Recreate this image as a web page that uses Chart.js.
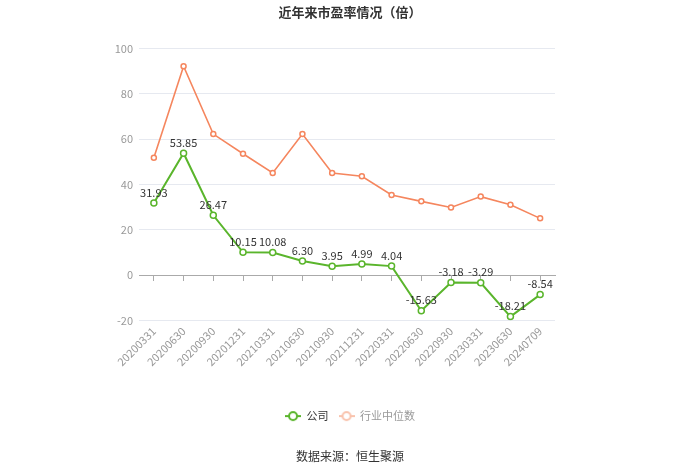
<!DOCTYPE html>
<html>
<head>
<meta charset="utf-8">
<script src="https://cdn.jsdelivr.net/npm/chart.js@4.4.0/dist/chart.umd.min.js"></script>
<style>
  body { margin: 0; background: #fff; }
  canvas { display: block; }
</style>
</head>
<body>
<canvas id="peChart" width="700" height="473"></canvas>
<script>
// data
const periods = [
    '20200331', '20200630', '20200930', '20201231', '20210331', '20210630', '20210930',
    '20211231', '20220331', '20220630', '20220930', '20230331', '20230630', '20240709'
];
const companyPE = [31.93, 53.85, 26.47, 10.15, 10.08, 6.30, 3.95, 4.99, 4.04, -15.63, -3.18, -3.29, -18.21, -8.54];
const industryPE = [51.8, 92.2, 62.3, 53.6, 45.1, 62.3, 45.1, 43.7, 35.4, 32.6, 29.9, 34.7, 31.1, 25.1];
const yTicks = [-20, 0, 20, 40, 60, 80, 100];

const green = '#5ab52c';
const orange = '#f5865e';

Chart.defaults.font.family = '"Noto Sans CJK SC", "Noto Sans", sans-serif';

// legend icon: short line with hollow circle
function legendIcon(color) {
    const c = document.createElement('canvas');
    c.width = 16;
    c.height = 12;
    const ctx = c.getContext('2d');
    ctx.strokeStyle = color;
    ctx.lineWidth = 2;
    ctx.beginPath();
    ctx.moveTo(0, 6);
    ctx.lineTo(16, 6);
    ctx.stroke();
    ctx.beginPath();
    ctx.arc(8, 6, 4, 0, Math.PI * 2);
    ctx.fillStyle = '#fff';
    ctx.fill();
    ctx.stroke();
    return c;
}

// value labels over the company line
const valueLabels = {
    id: 'valueLabels',
    afterDatasetsDraw(chart) {
        const ctx = chart.ctx;
        const meta = chart.getDatasetMeta(0);
        ctx.save();
        ctx.font = '11px "Noto Sans CJK SC", "Noto Sans", sans-serif';
        ctx.fillStyle = '#333';
        ctx.textAlign = 'center';
        ctx.textBaseline = 'bottom';
        meta.data.forEach((pt, i) => {
            ctx.fillText(companyPE[i].toFixed(2), pt.x, pt.y - 5);
        });
        ctx.restore();
    }
};

new Chart(document.getElementById('peChart'), {
    type: 'line',
    data: {
        labels: periods,
        datasets: [{
            label: '公司',
            data: companyPE,
            borderColor: green,
            backgroundColor: '#fff',
            borderWidth: 2,
            pointRadius: 3,
            pointBorderWidth: 1.5,
            pointBackgroundColor: '#fff',
            pointBorderColor: green,
            tension: 0
        }, {
            label: '行业中位数',
            data: industryPE,
            borderColor: orange,
            backgroundColor: '#fff',
            borderWidth: 1.6,
            pointRadius: 2.5,
            pointBorderWidth: 1.5,
            pointBackgroundColor: '#fff',
            pointBorderColor: orange,
            tension: 0
        }]
    },
    options: {
        responsive: false,
        animation: false,
        layout: { padding: 0 },
        scales: {
            x: {
                position: 'bottom',
                offset: true,
                grid: { display: false, drawTicks: false },
                border: { display: false },
                ticks: {
                    color: '#999',
                    font: { size: 11 },
                    minRotation: 45,
                    maxRotation: 45,
                    autoSkip: false,
                    padding: 4
                },
                afterFit: s => { s.height = 80; }
            },
            xZero: {
                type: 'category',
                position: { y: 0 },
                offset: true,
                grid: { drawOnChartArea: false, offset: false, tickLength: 5, color: '#aaa' },
                border: { color: '#aaa' },
                ticks: { display: false },
                afterFit: s => { s.height = 0; }
            },
            y: {
                min: -20,
                max: 100,
                afterBuildTicks: s => { s.ticks = yTicks.map(v => ({ value: v })); },
                grid: {
                    color: c => c.tick && c.tick.value === 0 ? 'rgba(0,0,0,0)' : '#e6e9f0',
                    drawTicks: false
                },
                border: { display: false },
                ticks: { color: '#999', font: { size: 11 }, padding: 6 },
                afterFit: s => { s.width = 139; }
            },
            yRight: {
                type: 'linear',
                position: 'right',
                grid: { display: false },
                border: { display: false },
                ticks: { display: false },
                afterFit: s => { s.width = 145; }
            }
        },
        plugins: {
            title: {
                display: true,
                text: '近年来市盈率情况（倍）',
                color: '#333',
                font: { size: 13, weight: 'bold' },
                padding: { top: 4, bottom: 29 }
            },
            subtitle: {
                display: true,
                position: 'bottom',
                text: '数据来源：恒生聚源',
                color: '#333',
                font: { size: 12 },
                padding: { top: 18, bottom: 9 }
            },
            legend: {
                position: 'bottom',
                labels: {
                    usePointStyle: true,
                    pointStyleWidth: 16,
                    font: { size: 11 },
                    padding: 10,
                    generateLabels: chart => chart.data.datasets.map((ds, i) => ({
                        text: ds.label,
                        datasetIndex: i,
                        pointStyle: legendIcon(i === 0 ? green : '#f9c3ad'),
                        fontColor: i === 0 ? '#333' : '#999',
                        lineWidth: 0,
                        hidden: false
                    }))
                }
            },
            tooltip: { enabled: false }
        }
    },
    plugins: [valueLabels]
});
</script>
</body>
</html>
